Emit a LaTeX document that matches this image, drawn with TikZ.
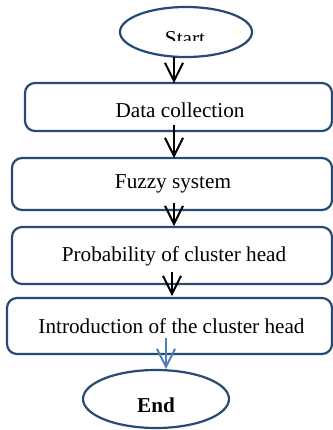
\documentclass[tikz,border=0pt]{standalone}
\usepackage{fontspec}
\setmainfont{Liberation Serif}
\usetikzlibrary{arrows.meta,shapes.geometric}
\definecolor{frame}{HTML}{264A73}
\definecolor{bluearrow}{HTML}{4F81BD}
\tikzset{
  stepbox/.style={draw=frame,line width=1.1pt,rounded corners=5pt,fill=white},
  oval/.style={draw=frame,line width=1.1pt,ellipse,fill=white},
  flow/.style={draw=black,line width=1pt,-{Straight Barb[length=9pt,width=9pt,line width=1pt]}},
  blueflow/.style={draw=bluearrow,line width=1pt,-{Straight Barb[length=9pt,width=9pt,line width=1pt]}},
  txt/.style={font=\fontsize{10.6}{12}\selectfont,inner sep=0pt}
}
\begin{document}
\begin{tikzpicture}[x=0.5pt,y=-0.5pt]
\useasboundingbox (0,0) rectangle (333,430);
% start ellipse
\node[oval,minimum width=66pt,minimum height=25pt,inner sep=0pt] (start) at (186,32) {};
\begin{scope}
\clip (100,0) rectangle (260,40.5);
\node[txt] (starttxt) at (185,39) {Start};
\end{scope}
% boxes
\draw[stepbox] (25,83) rectangle (332,131);
\node[txt] (b1) at (180,110) {Data collection};
\coordinate (b1top) at (174,83);
\coordinate (b1bot) at (174,125);
\draw[stepbox] (12,158) rectangle (332,210);
\node[txt] (b2) at (173,184) {Fuzzy system};
\coordinate (b2top) at (174,158);
\coordinate (b2bot) at (174,203);
\draw[stepbox] (12,227) rectangle (332,284);
\node[txt] (b3) at (174,256) {Probability of cluster head};
\coordinate (b3top) at (174,226);
\coordinate (b3bot) at (172,272);
\draw[stepbox] (7,298) rectangle (332,354);
\node[txt] (b4) at (171.5,326) {Introduction of the cluster head};
\coordinate (b4top) at (172,296);
\coordinate (b4bot) at (166,338);
% end ellipse
\node[oval,minimum width=73pt,minimum height=29pt,inner sep=0pt] (end) at (156,399) {};
\node[txt,font=\fontsize{10.6}{12}\selectfont\bfseries] (endtxt) at (156,405) {End};
\coordinate (endtop) at (166,369);
\coordinate (starttopnode) at (174,57);
% connectors
\draw[flow] (starttopnode) -- (b1top);
\draw[flow] (b1bot) -- (b2top);
\draw[flow] (b2bot) -- (b3top);
\draw[flow] (b3bot) -- (b4top);
\draw[blueflow] (b4bot) -- (endtop);
\end{tikzpicture}
\end{document}
